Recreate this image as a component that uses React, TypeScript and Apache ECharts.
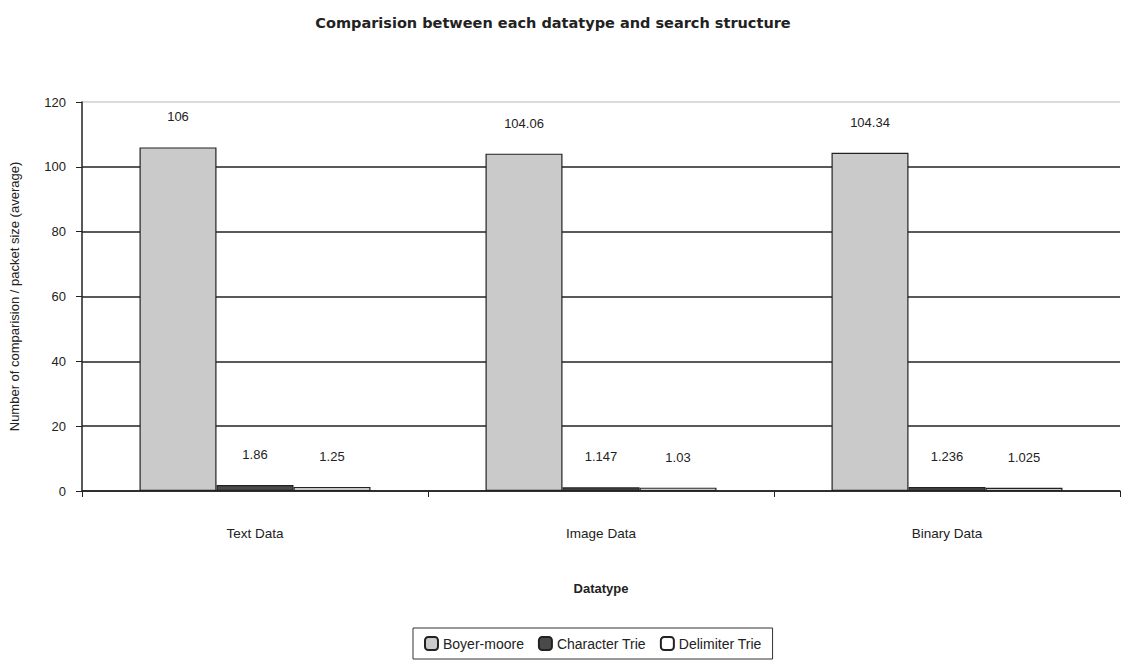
import React, { useEffect, useRef } from "react";
import * as echarts from "echarts";

const categories = ["Text Data", "Image Data", "Binary Data"];
const boyerMoore = [106, 104.06, 104.34];
const characterTrie = [1.86, 1.147, 1.236];
const delimiterTrie = [1.25, 1.03, 1.025];
const yTicks = [0, 20, 40, 60, 80, 100, 120];

const FONT = "'Liberation Sans', Arial, sans-serif";

export default function App() {
  const ref = useRef<HTMLDivElement>(null);

  useEffect(() => {
    if (!ref.current) return;
    const chart = echarts.init(ref.current, null, { renderer: "svg" });

    const label = {
      show: true,
      position: "top" as const,
      distance: 24,
      color: "#222",
      fontFamily: FONT,
      fontSize: 13,
      formatter: (p: any) => String(p.value),
    };

    // grid lines are solid dark, except the top border line which is faint
    const splitColors = yTicks.map((_, i) => (i === yTicks.length - 1 ? "#cfcfcf" : "#222"));

    chart.setOption({
      animation: false,
      backgroundColor: "#ffffff",
      textStyle: { fontFamily: FONT },
      title: {
        text: "Comparision between each datatype and search structure",
        left: 548,
        textAlign: "center",
        top: 10,
        textStyle: {
          fontSize: 14.5,
          fontWeight: "bold",
          color: "#222",
          fontFamily: "'DejaVu Sans', sans-serif",
        },
      },
      legend: {
        top: 628,
        left: 413,
        itemWidth: 13,
        itemHeight: 13,
        itemGap: 14,
        borderColor: "#333",
        borderWidth: 1,
        padding: [8, 11, 8, 11],
        textStyle: { fontSize: 14, color: "#222", fontFamily: FONT },
        data: ["Boyer-moore", "Character Trie", "Delimiter Trie"],
      },
      grid: { left: 82, right: 2, top: 102, bottom: 178, outerBoundsMode: "none" },
      xAxis: {
        type: "category",
        data: categories,
        name: "Datatype",
        nameLocation: "middle",
        nameGap: 91,
        nameTextStyle: { fontSize: 13, fontWeight: "bold", color: "#222", fontFamily: FONT },
        axisLine: { lineStyle: { color: "#222", width: 1.5 } },
        axisTick: { show: true, length: 6, lineStyle: { color: "#222" } },
        axisLabel: { margin: 35, fontSize: 13.5, color: "#222", fontFamily: FONT },
      },
      yAxis: {
        type: "value",
        min: yTicks[0],
        max: yTicks[yTicks.length - 1],
        interval: 20,
        name: "Number of comparision / packet size (average)",
        nameLocation: "middle",
        nameGap: 61,
        nameTextStyle: { fontSize: 13, color: "#222", fontFamily: FONT },
        axisLine: { show: true, lineStyle: { color: "#222", width: 1.5 } },
        axisTick: { show: true, length: 6, lineStyle: { color: "#222" } },
        axisLabel: { margin: 16, fontSize: 13, color: "#222", fontFamily: FONT },
        splitLine: {
          show: true,
          lineStyle: { color: splitColors, width: 1.5 },
        },
      },
      series: [
        {
          name: "Boyer-moore",
          type: "bar",
          data: boyerMoore,
          barWidth: 77,
          barGap: "0%",
          itemStyle: { color: "#cacaca", borderColor: "#222", borderWidth: 1.2 },
          label,
        },
        {
          name: "Character Trie",
          type: "bar",
          data: characterTrie,
          barWidth: 77,
          barGap: "0%",
          itemStyle: { color: "#4a4a4a", borderColor: "#222", borderWidth: 1.2 },
          label,
        },
        {
          name: "Delimiter Trie",
          type: "bar",
          data: delimiterTrie,
          barWidth: 77,
          barGap: "0%",
          itemStyle: { color: "#ffffff", borderColor: "#222", borderWidth: 1.2 },
          label,
        },
      ],
    });

    return () => chart.dispose();
  }, []);

  return (
    <div
      ref={ref}
      style={{ position: "fixed", left: 0, top: 0, width: 1122, height: 669 }}
    />
  );
}
